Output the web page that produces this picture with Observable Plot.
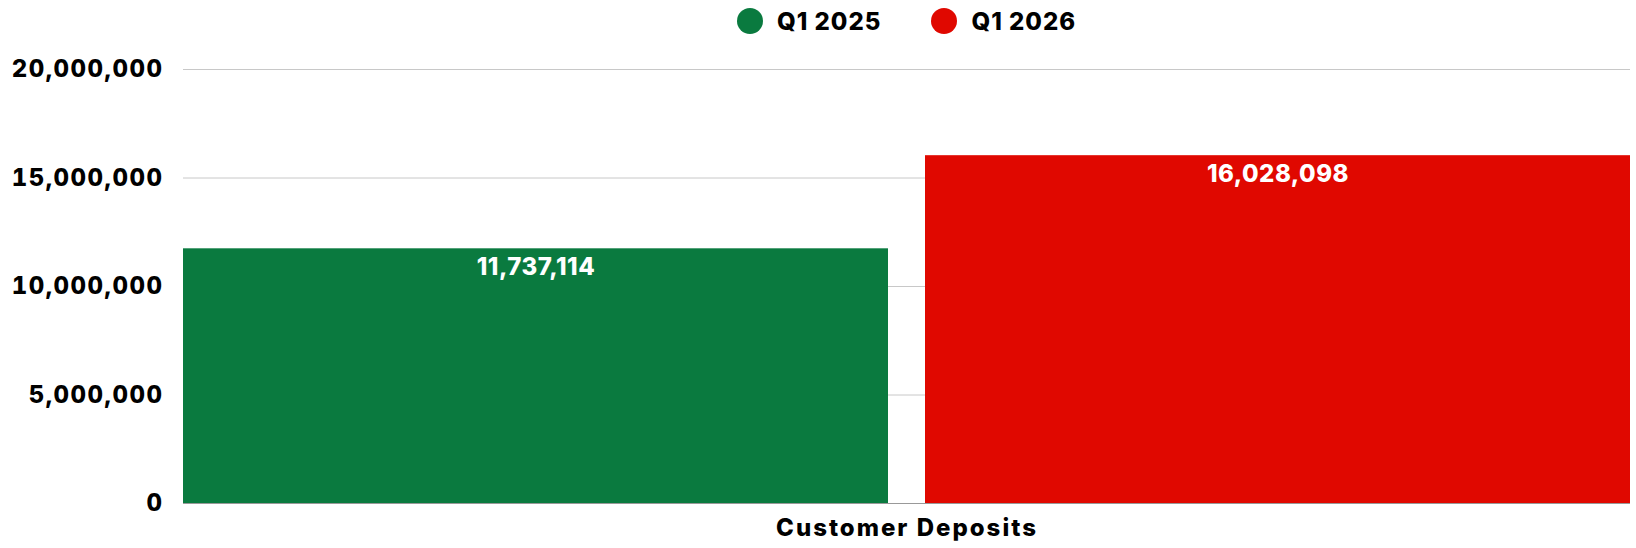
<!DOCTYPE html>
<html><head><meta charset="utf-8">
<script src="https://cdn.jsdelivr.net/npm/d3@7"></script>
<script src="https://cdn.jsdelivr.net/npm/@observablehq/plot@0.6"></script>
<style>
body{margin:0;background:#fff;font-family:Inter,"Open Sans",sans-serif;}
#legend{height:42px;display:flex;justify-content:center;align-items:center;margin-left:183px;margin-right:6px;gap:50px;font-size:24px;font-weight:800;color:#000;letter-spacing:1px;}
.item{display:flex;align-items:center;gap:14px;}
.dot{width:26px;height:26px;border-radius:50%;}
g[aria-label="y-axis tick label"]{letter-spacing:1.5px;}
g[aria-label="fx-axis tick label"]{letter-spacing:2px;}
g[aria-label="text"]{letter-spacing:0.5px;}
</style>
</head><body>
<div id="legend"></div>
<div id="chart"></div>
<script>
const categories = ["Customer Deposits"];
const series = ["Q1 2025", "Q1 2026"];
const valuesQ12025 = [11737114];
const valuesQ12026 = [16028098];
const colors = ["#0a7a3f", "#e00800"];
const yTicks = [0, 5000000, 10000000, 15000000, 20000000];

const data = categories.flatMap((c, i) => [
  {category: c, series: series[0], value: valuesQ12025[i]},
  {category: c, series: series[1], value: valuesQ12026[i]}
]);
const fmt = d3.format(",");

const legend = document.getElementById("legend");
series.forEach((s, i) => {
  const it = document.createElement("div");
  it.className = "item";
  const dot = document.createElement("div");
  dot.className = "dot";
  dot.style.background = colors[i];
  const t = document.createElement("span");
  t.textContent = s;
  it.appendChild(dot); it.appendChild(t);
  legend.appendChild(it);
});

const chart = Plot.plot({
  width: 1636, height: 506,
  marginTop: 27, marginBottom: 45, marginLeft: 183, marginRight: 6,
  style: {fontFamily: "Inter, 'Open Sans', sans-serif", fontSize: "24px", fontWeight: 800, color: "#000", background: "#fff", overflow: "visible"},
  fx: {domain: categories, padding: 0, label: null, axis: "bottom", tickSize: 0, tickPadding: 15},
  x: {domain: series, paddingInner: 0.05, paddingOuter: 0, axis: null},
  y: {domain: [0, 20000000], ticks: yTicks, tickFormat: fmt, label: null, tickSize: 0, tickPadding: 20},
  color: {domain: series, range: colors},
  marks: [
    Plot.gridY(yTicks, {stroke: "#c8c8c8", strokeOpacity: 1, strokeWidth: 1}),
    Plot.barY(data, {fx: "category", x: "series", y: "value", fill: "series"}),
    Plot.ruleY([0], {stroke: "#999", strokeWidth: 1}),
    Plot.text(data, {fx: "category", x: "series", y: "value", text: d => fmt(d.value), fill: "white", lineAnchor: "top", dy: 9, fontSize: 24, fontWeight: 800})
  ]
});
document.getElementById("chart").appendChild(chart);
</script>
</body></html>
